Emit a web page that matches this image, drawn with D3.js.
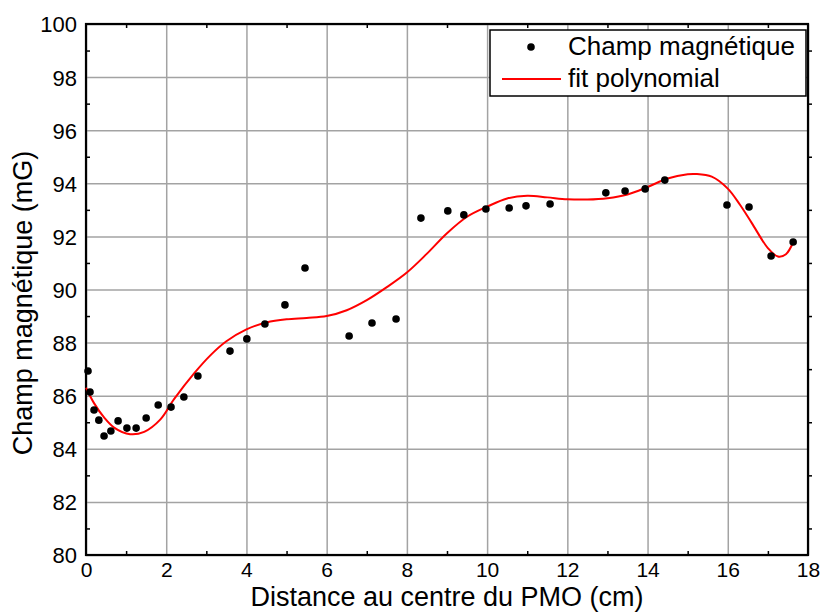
<!DOCTYPE html>
<html>
<head>
<meta charset="utf-8">
<script src="https://cdn.jsdelivr.net/npm/d3@7"></script>
<style>
  body { margin: 0; background: #fff; }
  text { font-family: "Liberation Sans", Arial, sans-serif; fill: #000; }
</style>
</head>
<body>
<div id="chart"></div>
<script>
// measured points
const distX = [0.05, 0.1, 0.2, 0.32, 0.45, 0.62, 0.8, 1.02, 1.25, 1.5, 1.8, 2.12, 2.44, 2.79,
  3.59, 4.01, 4.46, 4.96, 5.46, 6.56, 7.13, 7.73, 8.35, 9.02, 9.42, 9.97, 10.55, 10.97, 11.57,
  12.96, 13.44, 13.94, 14.43, 15.98, 16.53, 17.08, 17.63];
const champY = [86.93, 86.14, 85.46, 85.08, 84.48, 84.67, 85.05, 84.78, 84.78, 85.16, 85.65, 85.57, 85.95, 86.74,
  87.68, 88.14, 88.70, 89.42, 90.81, 88.25, 88.74, 88.89, 92.69, 92.96, 92.81, 93.03, 93.07, 93.15, 93.22,
  93.64, 93.71, 93.79, 94.12, 93.18, 93.11, 91.26, 91.79];

// polynomial fit
const fitX = [0, 0.2, 0.45, 0.7, 1.1, 1.45, 1.85, 2.2, 2.7, 3.1, 3.5, 4.0, 4.5, 5.0, 5.5, 6.0, 6.5, 7.0,
  7.5, 8.0, 8.5, 9.0, 9.5, 10.0, 10.5, 11.0, 11.5, 12.0, 12.5, 13.0, 13.5, 14.0, 14.5, 15.0, 15.2, 15.6,
  16.0, 16.3, 16.6, 17.0, 17.25, 17.45, 17.63];
const fitY = [86.3, 85.72, 85.18, 84.8, 84.55, 84.64, 85.1, 85.88, 86.85, 87.52, 88.05, 88.5, 88.76, 88.88,
  88.93, 89.0, 89.22, 89.6, 90.09, 90.64, 91.35, 92.12, 92.74, 93.12, 93.43, 93.53, 93.47, 93.4, 93.39,
  93.44, 93.58, 93.86, 94.18, 94.34, 94.35, 94.25, 93.8, 93.2, 92.5, 91.56, 91.24, 91.33, 91.78];

const xTicks = [0, 2, 4, 6, 8, 10, 12, 14, 16, 18];
const yTicks = [80, 82, 84, 86, 88, 90, 92, 94, 96, 98, 100];
const xMinor = [1, 3, 5, 7, 9, 11, 13, 15, 17];
const yMinor = [81, 83, 85, 87, 89, 91, 93, 95, 97, 99];

const margin = {top: 24, right: 15, bottom: 58, left: 86},
    width = 823 - margin.left - margin.right,
    height = 613 - margin.top - margin.bottom;

const svg = d3.select("#chart")
  .append("svg")
    .attr("width", 823)
    .attr("height", 613)
  .append("g")
    .attr("transform", `translate(${margin.left},${margin.top})`);

const x = d3.scaleLinear().domain([0, 18]).range([0, width]);
const y = d3.scaleLinear().domain([80, 100]).range([height, 0]);

// grid
svg.append("g")
  .attr("transform", `translate(0,${height})`)
  .call(d3.axisBottom(x).tickValues(xTicks).tickSize(-height).tickFormat(""))
  .call(g => g.select(".domain").remove())
  .call(g => g.selectAll("line").attr("stroke", "#a3a3a3").attr("stroke-width", 1.5));
svg.append("g")
  .call(d3.axisLeft(y).tickValues(yTicks).tickSize(-width).tickFormat(""))
  .call(g => g.select(".domain").remove())
  .call(g => g.selectAll("line").attr("stroke", "#a3a3a3").attr("stroke-width", 1.5));

// minor ticks, inward on all four sides
const minorLen = 4;
svg.append("g")
  .attr("transform", `translate(0,${height})`)
  .call(d3.axisBottom(x).tickValues(xMinor).tickSize(-minorLen).tickFormat(""))
  .call(g => g.select(".domain").remove())
  .call(g => g.selectAll("line").attr("stroke", "#000").attr("stroke-width", 1.5));
svg.append("g")
  .call(d3.axisTop(x).tickValues(xMinor).tickSize(-minorLen).tickFormat(""))
  .call(g => g.select(".domain").remove())
  .call(g => g.selectAll("line").attr("stroke", "#000").attr("stroke-width", 1.5));
svg.append("g")
  .call(d3.axisLeft(y).tickValues(yMinor).tickSize(-minorLen).tickFormat(""))
  .call(g => g.select(".domain").remove())
  .call(g => g.selectAll("line").attr("stroke", "#000").attr("stroke-width", 1.5));
svg.append("g")
  .attr("transform", `translate(${width},0)`)
  .call(d3.axisRight(y).tickValues(yMinor).tickSize(minorLen).tickFormat(""))
  .call(g => g.select(".domain").remove())
  .call(g => g.selectAll("line").attr("stroke", "#000").attr("stroke-width", 1.5));

// tick labels
svg.append("g")
  .attr("transform", `translate(0,${height})`)
  .call(d3.axisBottom(x).tickValues(xTicks).tickSize(0))
  .call(g => g.select(".domain").remove())
  .call(g => g.selectAll("text")
    .attr("y", 22).attr("dy", 0)
    .style("font-size", "21px")
    .style("font-family", "Liberation Sans, Arial, sans-serif"));
svg.append("g")
  .call(d3.axisLeft(y).tickValues(yTicks).tickSize(0).tickPadding(9))
  .call(g => g.select(".domain").remove())
  .call(g => g.selectAll("text")
    .attr("dy", "0.36em")
    .style("font-size", "22px")
    .style("font-family", "Liberation Sans, Arial, sans-serif"));

// frame
svg.append("rect")
  .attr("width", width)
  .attr("height", height)
  .attr("fill", "none")
  .attr("stroke", "#000")
  .attr("stroke-width", 2.2);

// fit line
svg.append("path")
  .datum(fitX.map((d, i) => [d, fitY[i]]))
  .attr("fill", "none")
  .attr("stroke", "#ff0000")
  .attr("stroke-width", 2)
  .attr("d", d3.line()
    .x(d => x(d[0]))
    .y(d => y(d[1]))
    .curve(d3.curveCatmullRom.alpha(0.5)));

// points
svg.selectAll(".pt")
  .data(distX.map((d, i) => [d, champY[i]]))
  .enter().append("circle")
    .attr("class", "pt")
    .attr("cx", d => x(d[0]))
    .attr("cy", d => y(d[1]))
    .attr("r", 3.8)
    .attr("fill", "#000");

// axis titles
svg.append("text")
  .attr("x", width / 2)
  .attr("y", height + 51)
  .attr("text-anchor", "middle")
  .style("font-size", "27px")
  .text("Distance au centre du PMO (cm)");

svg.append("text")
  .attr("transform", `translate(${32 - margin.left},${303 - margin.top}) rotate(-90)`)
  .attr("text-anchor", "middle")
  .style("font-size", "27px")
  .text("Champ magnétique (mG)");

// legend
const lg = svg.append("g").attr("transform", `translate(${490 - margin.left},${30 - margin.top})`);
lg.append("rect")
  .attr("width", 316)
  .attr("height", 66)
  .attr("fill", "#fff")
  .attr("stroke", "#000")
  .attr("stroke-width", 1.5);
lg.append("circle").attr("cx", 41).attr("cy", 17).attr("r", 3.8).attr("fill", "#000");
lg.append("line")
  .attr("x1", 12).attr("x2", 71).attr("y1", 49).attr("y2", 49)
  .attr("stroke", "#ff0000").attr("stroke-width", 2);
lg.append("text").attr("x", 78).attr("y", 25).style("font-size", "26px").text("Champ magnétique");
lg.append("text").attr("x", 78).attr("y", 57).style("font-size", "26px").text("fit polynomial");
</script>
</body>
</html>
